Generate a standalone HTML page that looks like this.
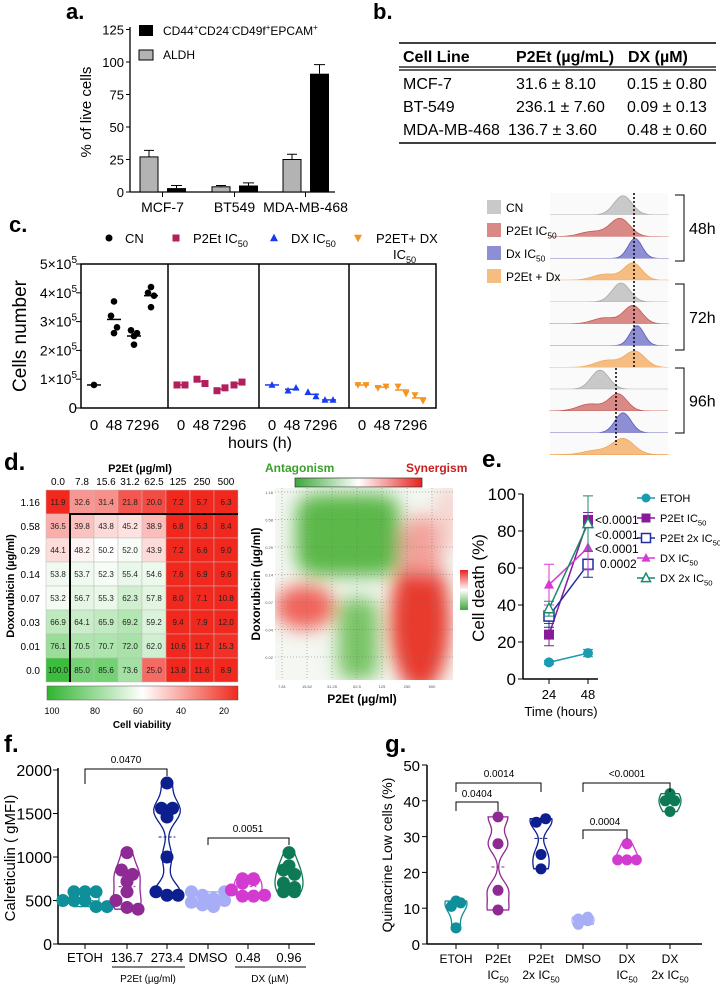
<!DOCTYPE html>
<html><head><meta charset="utf-8">
<style>
html,body{margin:0;padding:0;background:#fff;}
svg{display:block;font-family:"Liberation Sans",Arial,sans-serif;}
</style></head>
<body>
<svg id="fig" width="720" height="992" viewBox="0 0 720 992">
<defs>
<filter id="blur8"><feGaussianBlur stdDeviation="9"/></filter>
<linearGradient id="synbar" x1="0" x2="1" y1="0" y2="0">
<stop offset="0" stop-color="#3aa83a"/><stop offset="0.5" stop-color="#ffffff"/><stop offset="1" stop-color="#e8221e"/></linearGradient>
<linearGradient id="vbar" x1="0" x2="1" y1="0" y2="0">
<stop offset="0" stop-color="#2fb52f"/><stop offset="0.5" stop-color="#ffffff"/><stop offset="1" stop-color="#ee2a1e"/></linearGradient>
<linearGradient id="vsmall" x1="0" x2="0" y1="0" y2="1">
<stop offset="0" stop-color="#e8221e"/><stop offset="0.5" stop-color="#ffffff"/><stop offset="1" stop-color="#3aa83a"/></linearGradient>
</defs>
<text x="66" y="19" font-size="22" font-weight="bold">a.</text>
<text x="373" y="19" font-size="22" font-weight="bold">b.</text>
<text x="9" y="232" font-size="22" font-weight="bold">c.</text>
<text x="4" y="470" font-size="24" font-weight="bold">d.</text>
<text x="482" y="467" font-size="24" font-weight="bold">e.</text>
<text x="4" y="752" font-size="24" font-weight="bold">f.</text>
<text x="385" y="752" font-size="24" font-weight="bold">g.</text>

<g font-size="16">
<line x1="399" y1="43" x2="716" y2="43" stroke="#000" stroke-width="1.5"/>
<line x1="399" y1="67" x2="716" y2="67" stroke="#000" stroke-width="1.2"/>
<line x1="399" y1="70" x2="716" y2="70" stroke="#000" stroke-width="1.2"/>
<line x1="399" y1="143" x2="716" y2="143" stroke="#000" stroke-width="1.5"/>
<text x="403" y="62" font-weight="bold">Cell Line</text>
<text x="516" y="62" font-weight="bold">P2Et (µg/mL)</text>
<text x="628" y="62" font-weight="bold">DX (µM)</text>
<text x="403" y="89">MCF-7</text><text x="516" y="89">31.6 ± 8.10</text><text x="627" y="89">0.15 ± 0.80</text>
<text x="403" y="112">BT-549</text><text x="516" y="112">236.1 ± 7.60</text><text x="627" y="112">0.09 ± 0.13</text>
<text x="403" y="135">MDA-MB-468</text><text x="508" y="135">136.7 ± 3.60</text><text x="627" y="135">0.48 ± 0.60</text>
</g>
<g id="root"></g>
</svg>
<script>
// ---------- data ----------
const aCats = ["MCF-7","BT549","MDA-MB-468"];
const aAldh = [27,4,25];
const aAldhErr = [5,1,4];
const aCd44 = [3,5,91];
const aCd44Err = [2,2,7];
const cTimes = ["0","48","72","96"];
const cCN = [[0.8],[3.7,3.2,2.8,2.6],[2.5,2.7,2.6,2.2],[4.2,4.0,3.9,3.5]];
const cP2 = [[0.8,0.8],[1.0,0.85],[0.6,0.7],[0.8,0.9]];
const cDX = [[0.8],[0.6,0.7],[0.55,0.4],[0.28,0.28]];
const cCombo = [[0.8,0.8],[0.7,0.75],[0.75,0.5],[0.45,0.25]];
const dCols = ["0.0","7.8","15.6","31.2","62.5","125","250","500"];
const dRows = ["1.16","0.58","0.29","0.14","0.07","0.03","0.01","0.0"];
const dVals = [
[11.9,32.6,31.4,21.8,20.0,7.2,5.7,6.3],
[36.5,39.8,43.8,45.2,38.9,6.8,6.3,8.4],
[44.1,48.2,50.2,52.0,43.9,7.2,6.6,9.0],
[53.8,53.7,52.3,55.4,54.6,7.6,6.9,9.6],
[53.2,56.7,55.3,62.3,57.8,8.0,7.1,10.8],
[66.9,64.1,65.9,69.2,59.2,9.4,7.9,12.0],
[76.1,70.5,70.7,72.0,62.0,10.6,11.7,15.3],
[100.0,85.0,85.6,73.6,25.0,13.8,11.6,8.9]];
const eTimes = [24,48];
const eEtoh = [9,14];   const eEtohErr=[1,2];
const eP2 = [24,86];    const eP2Err=[6,4];
const eP2x2 = [34,62];  const eP2x2Err=[6,7];
const eDX = [51,71];    const eDXErr=[11,12];
const eDXx2 = [38,84];  const eDXx2Err=[4,15];
const ePvals = ["<0.0001","<0.0001","<0.0001","0.0002"];
const fCats = ["ETOH","136.7","273.4","DMSO","0.48","0.96"];
const fVals = [
[600,600,500,500,500,430,430,600],
[1050,850,800,720,600,500,420,400],
[1850,1560,1560,1460,1000,600,560,560],
[600,560,520,480,450,430,600,500],
[750,750,700,620,550,550,560,740],
[1050,900,850,800,700,650,600,600]];
const gCats1 = ["ETOH","P2Et","P2Et","DMSO","DX","DX"];
const gCats2 = ["","IC50","2x IC50","","IC50","2x IC50"];
const gVals = [
[10.5,12,11.5,4.5],
[35.5,28,15,9.5],
[34,35,25,21],
[5.5,6.5,7,7.5],
[23.5,28,23.5,23.5],
[42,40,40,37]];

const NS="http://www.w3.org/2000/svg";
const root=document.getElementById('root');
function mk(tag,attrs,parent){const e=document.createElementNS(NS,tag);for(const k in attrs)e.setAttribute(k,attrs[k]);(parent||root).appendChild(e);return e;}
function txt(x,y,s,size,extra,parent){const e=mk('text',Object.assign({x:x,y:y,'font-size':size},extra||{}),parent);e.textContent=s;return e;}
function sub(parent,x,y,base,subs,size,anchor){const t=mk('text',{x:x,y:y,'font-size':size,'text-anchor':anchor||'start'},parent);t.appendChild(document.createTextNode(base));const ts=mk('tspan',{'font-size':size*0.7,dy:size*0.3},t);ts.textContent=subs;return t;}
function marker(g,shape,x,y,r,color){
 let e;
 if(shape==='circle')e=mk('circle',{cx:x,cy:y,r:r,fill:color},g);
 else if(shape==='square')e=mk('rect',{x:x-r,y:y-r,width:2*r,height:2*r,fill:color},g);
 else if(shape==='osquare')e=mk('rect',{x:x-r,y:y-r,width:2*r,height:2*r,fill:'#fff',stroke:color,'stroke-width':1.5},g);
 else if(shape==='tri')e=mk('polygon',{points:`${x},${y-r*1.1} ${x-r},${y+r*0.8} ${x+r},${y+r*0.8}`,fill:color},g);
 else if(shape==='otri')e=mk('polygon',{points:`${x},${y-r*1.1} ${x-r},${y+r*0.8} ${x+r},${y+r*0.8}`,fill:'#fff',stroke:color,'stroke-width':1.5},g);
 else if(shape==='itri')e=mk('polygon',{points:`${x},${y+r*1.1} ${x-r},${y-r*0.8} ${x+r},${y-r*0.8}`,fill:color},g);
 return e;
}

// ================= PANEL A =================
const gA=mk('g',{});


function yA(v){return 192-v*1.3;}
const aX=[149,221,292];
mk('line',{x1:130,y1:27,x2:130,y2:192,stroke:'#000','stroke-width':1.3},gA);
mk('line',{x1:130,y1:192,x2:335,y2:192,stroke:'#000','stroke-width':1.3},gA);
[0,25,50,75,100,125].forEach(t=>{mk('line',{x1:126,x2:130,y1:yA(t),y2:yA(t),stroke:'#000'},gA);const l=txt(124,yA(t)+5,String(t),13,{'text-anchor':'end'},gA);

});
const aYT=txt(0,0,'% of live cells',15,{'text-anchor':'middle',transform:'translate(91,112) rotate(-90)'},gA);


aCats.forEach((c,i)=>{
 const x=aX[i];
 const b1=mk('rect',{x:x-9,y:yA(aAldh[i]),width:18,height:192-yA(aAldh[i]),fill:'#b3b3b3',stroke:'#000'},gA);
 
 
 mk('path',{d:`M${x} ${yA(aAldh[i])} V${yA(aAldh[i]+aAldhErr[i])} M${x-5} ${yA(aAldh[i]+aAldhErr[i])} H${x+5}`,stroke:'#000',fill:'none'},gA);
 const b2=mk('rect',{x:x+18,y:yA(aCd44[i]),width:19,height:192-yA(aCd44[i]),fill:'#000'},gA);
 
 
 mk('path',{d:`M${x+27.5} ${yA(aCd44[i])} V${yA(aCd44[i]+aCd44Err[i])} M${x+22} ${yA(aCd44[i]+aCd44Err[i])} H${x+33}`,stroke:'#000',fill:'none'},gA);
 mk('line',{x1:x+13.5,x2:x+13.5,y1:192,y2:197,stroke:'#000'},gA);
 const l=txt(x+13.5,212,c,14,{'text-anchor':'middle'},gA);
 
 
});
const lgA=mk('g',{},gA);


mk('rect',{x:139,y:25,width:14,height:11,fill:'#000'},lgA);
const lt1=mk('text',{x:163,y:35,'font-size':12},lgA);
lt1.innerHTML='CD44<tspan dy="-5" font-size="8">+</tspan><tspan dy="5">CD24</tspan><tspan dy="-5" font-size="8">-</tspan><tspan dy="5">CD49f</tspan><tspan dy="-5" font-size="8">+</tspan><tspan dy="5">EPCAM</tspan><tspan dy="-5" font-size="8">+</tspan>';
mk('rect',{x:139,y:50,width:14,height:10,fill:'#b3b3b3',stroke:'#000'},lgA);
txt(163,59,'ALDH',12,{},lgA);

// ================= PANEL C =================
const gC=mk('g',{});


function yC(v){return 408-v*28.8;}
const cStarts=[81,168,259,349];
const cOff=[13,33,53,70];
mk('rect',{x:81,y:264,width:355,height:144,fill:'none',stroke:'#000','stroke-width':1.5},gC);
[168,259,349].forEach(x=>mk('line',{x1:x,x2:x,y1:264,y2:408,stroke:'#000','stroke-width':1.5},gC));
[0,1,2,3,4,5].forEach(t=>{
 mk('line',{x1:76,x2:81,y1:yC(t),y2:yC(t),stroke:'#000'},gC);
 let l;
 if(t===0)l=txt(77,yC(t)+5,'0',15,{'text-anchor':'end'},gC);
 else {l=mk('text',{x:77,y:yC(t)+5,'font-size':14,'text-anchor':'end'},gC);l.innerHTML=t+'×10<tspan dy="-6" font-size="10">5</tspan>';}
 
 
});
const cYT=txt(0,0,'Cells number',19,{'text-anchor':'middle',transform:'translate(26,336) rotate(-90)'},gC);


const cXT=txt(260,448,'hours  (h)',16,{'text-anchor':'middle'},gC);


const cSeries=[[cCN,'circle','#000'],[cP2,'square','#b21f5c'],[cDX,'tri','#1a3cf0'],[cCombo,'itri','#f5931e']];
cSeries.forEach((s,si)=>{
 const g=mk('g',{},gC);
 
 
 cTimes.forEach((t,ti)=>{
  const x=cStarts[si]+cOff[ti];
  const l=txt(x,430,t,15,{'text-anchor':'middle'},g);
  
  
  const vals=s[0][ti];
  const mean=vals.reduce((a,b)=>a+b,0)/vals.length;
  mk('line',{x1:x-7,x2:x+7,y1:yC(mean),y2:yC(mean),stroke:s[2],'stroke-width':1.5},g);
  vals.forEach((v,vi)=>{
   const dx=vals.length===1?0:(vals.length===2?(vi===0?-4:4):[0,-3,3,0][vi]);
   const m=marker(g,s[1],x+dx,yC(v),si===0?3.3:3.5,s[2]);
   
   
  });
 });
});
const lgC=mk('g',{},gC);


marker(lgC,'circle',109,238,3.5,'#000');txt(125,243,'CN',13,{},lgC);
marker(lgC,'square',176,238,3.5,'#b21f5c');sub(lgC,193,243,'P2Et IC','50',13);
marker(lgC,'tri',274,238,4,'#1a3cf0');sub(lgC,291,243,'DX IC','50',13);
marker(lgC,'itri',358,238,4,'#f5931e');txt(376,243,'P2ET+ DX',13,{},lgC);sub(lgC,393,259,'IC','50',13);

// ================= HISTOGRAMS =================
const gH=mk('g',{});


const hColors=['#c9c9c9','#d98a86','#8e8ed4','#f6bd82'];
const hStroke=['#aaa','#c45a56','#5a5ab8','#f0a860'];
const hPeaks=[[623,9,0.95,0],[620,10,0.9,0.25],[635,7,1,0],[633,9,0.85,0.3],[621,9,0.95,0],[633,9,0.9,0.3],[637,7,1,0],[635,10,0.8,0.35],[600,9,0.95,0],[618,9,0.85,0.35],[623,8,1,0],[623,11,0.8,0.2]];
const hRow=21.8;
hPeaks.forEach((p,i)=>{
 const base=193+(i+1)*hRow;
 mk('rect',{x:550,y:base-hRow,width:118,height:hRow,fill:'#fafafa'},gH);
 let d=`M550 ${base}`;
 for(let x=550;x<=668;x+=2){const z=(x-p[0])/p[1];const z2=(x-p[0]+28)/12;d+=` L${x} ${base-20*(p[2]*Math.exp(-z*z/2)+p[3]*Math.exp(-z2*z2/2))}`;}
 d+=` L668 ${base} Z`;
 const e=mk('path',{d:d,fill:hColors[i%4],stroke:hStroke[i%4],'stroke-width':0.8},gH);
 
 
});
mk('line',{x1:634,x2:634,y1:193,y2:368,stroke:'#000','stroke-width':1.5,'stroke-dasharray':'2,2'},gH);
mk('line',{x1:616,x2:616,y1:368,y2:445,stroke:'#000','stroke-width':1.5,'stroke-dasharray':'2,2'},gH);
[[195,261,'48h'],[284,350,'72h'],[368,433,'96h']].forEach(b=>{
 mk('path',{d:`M675 ${b[0]} H684 V${b[1]} H675`,stroke:'#000',fill:'none'},gH);
 const l=txt(689,(b[0]+b[1])/2+6,b[2],16,{},gH);
 
 
});
const lgH=mk('g',{},gH);


[['CN'],['P2Et IC','50'],[' Dx IC','50'],['P2Et + Dx']].forEach((l,i)=>{
 const y=200+i*23;
 mk('rect',{x:487,y:y,width:14,height:14,fill:hColors[i]},lgH);
 if(l[1])sub(lgH,506,y+12,l[0],l[1],12);else txt(506,y+12,l[0],12,{},lgH);
});

// ================= PANEL D heatmap =================
const gD=mk('g',{});


const dx0=46,dy0=490,cw=24,ch=24;
function vColor(v){
 if(v>=50){const t=Math.min(1,(v-50)/50);return `rgb(${Math.round(255-t*195)},${Math.round(255-t*65)},${Math.round(255-t*195)})`;}
 const t=Math.min(1,(50-v)/36);return `rgb(${Math.round(255-t*15)},${Math.round(255-t*215)},${Math.round(255-t*225)})`;
}
dVals.forEach((row,r)=>row.forEach((v,c)=>{
 const rc=mk('rect',{x:dx0+c*cw,y:dy0+r*ch,width:cw,height:ch,fill:vColor(v),stroke:'#bbb','stroke-width':0.5},gD);
 
 
 txt(dx0+c*cw+cw/2,dy0+r*ch+ch/2+3,v.toFixed(1),8,{'text-anchor':'middle',fill:'#222'},gD);
}));
dCols.forEach((c,i)=>{const l=txt(dx0+i*cw+cw/2,485,c,10,{'text-anchor':'middle'},gD);

});
dRows.forEach((r,i)=>{const l=txt(40,dy0+i*ch+ch/2+4,r,10,{'text-anchor':'end'},gD);

});
mk('path',{d:`M${dx0+cw} ${dy0+8*ch} V${dy0+ch} H${dx0+8*cw}`,stroke:'#000','stroke-width':2,fill:'none'},gD);
txt(140,472,'P2Et (µg/ml)',11,{'text-anchor':'middle','font-weight':'bold'},gD);
txt(0,0,'Doxorubicin (µg/ml)',11,{'text-anchor':'middle','font-weight':'bold',transform:'translate(14,586) rotate(-90)'},gD);
const vb=mk('rect',{x:47,y:686,width:191,height:14,fill:'url(#vbar)',stroke:'#555','stroke-width':0.5},gD);


['100','80','60','40','20'].forEach((t,i)=>txt(52+i*43,714,t,9,{'text-anchor':'middle'},gD));
txt(142,728,'Cell viability',10,{'text-anchor':'middle','font-weight':'bold'},gD);

const gS=mk('g',{});


mk('clipPath',{id:'synclip'},gS).appendChild(document.createElementNS(NS,'rect'));
const cr=document.querySelector('#synclip rect');cr.setAttribute('x',275);cr.setAttribute('y',488);cr.setAttribute('width',178);cr.setAttribute('height',192);
const sg=mk('g',{'clip-path':'url(#synclip)'},gS);
mk('rect',{x:275,y:488,width:178,height:192,fill:'#f4f7f2'},sg);
const blobs=mk('g',{filter:'url(#blur8)'},sg);
mk('rect',{x:296,y:494,width:104,height:82,rx:20,fill:'#5cb848'},blobs);
mk('rect',{x:338,y:598,width:40,height:82,rx:14,fill:'#79c466'},blobs);
mk('ellipse',{cx:420,cy:622,rx:30,ry:70,fill:'#e83a2e'},blobs);
mk('ellipse',{cx:422,cy:545,rx:22,ry:30,fill:'#f3a09a'},blobs);
mk('ellipse',{cx:305,cy:607,rx:30,ry:22,fill:'#f0635a'},blobs);
mk('rect',{x:438,y:488,width:20,height:60,fill:'#f6d0cc'},blobs);
for(let i=0;i<7;i++){mk('line',{x1:282+i*25,x2:282+i*25,y1:488,y2:680,stroke:'#777','stroke-width':0.5,'stroke-dasharray':'1,2'},sg);}
for(let i=0;i<7;i++){mk('line',{x1:275,x2:453,y1:492+i*27.5,y2:492+i*27.5,stroke:'#777','stroke-width':0.5,'stroke-dasharray':'1,2'},sg);}
const sb=mk('rect',{x:295,y:478,width:127,height:9,fill:'url(#synbar)',stroke:'#333','stroke-width':0.7},gS);


mk('rect',{x:460,y:570,width:8,height:40,fill:'url(#vsmall)'},gS);
txt(265,472,'Antagonism',12,{fill:'#3aa12a','font-weight':'bold'},gS);
txt(406,472,'Synergism',12,{fill:'#c62020','font-weight':'bold'},gS);
['1.16','0.58','0.29','0.14','0.07','0.04','0.02'].forEach((t,i)=>txt(273,494+i*27.5,t,4,{'text-anchor':'end',fill:'#555'},gS));
['7.81','15.62','31.25','62.5','125','250','500'].forEach((t,i)=>txt(282+i*25,688,t,4,{'text-anchor':'middle',fill:'#555'},gS));
txt(362,703,'P2Et (µg/ml)',12,{'text-anchor':'middle','font-weight':'bold'},gS);
txt(0,0,'Doxorubicin (µg/ml)',12,{'text-anchor':'middle','font-weight':'bold',transform:'translate(260,584) rotate(-90)'},gS);

// ================= PANEL E =================
const gE=mk('g',{});


function yE(v){return 679-v*1.85;}
function xE(t){return 549+(t-24)*39/24;}
mk('line',{x1:523,x2:523,y1:494,y2:679,stroke:'#000','stroke-width':1.5},gE);
mk('line',{x1:523,x2:598,y1:679,y2:679,stroke:'#000','stroke-width':1.5},gE);
[0,20,40,60,80,100].forEach(t=>{mk('line',{x1:518,x2:523,y1:yE(t),y2:yE(t),stroke:'#000'},gE);const l=txt(516,yE(t)+6,String(t),17,{'text-anchor':'end'},gE);

});
eTimes.forEach(t=>{mk('line',{x1:xE(t),x2:xE(t),y1:679,y2:684,stroke:'#000'},gE);const l=txt(xE(t),699,String(t),13,{'text-anchor':'middle'},gE);

});
txt(561,716,'Time (hours)',13,{'text-anchor':'middle'},gE);
txt(0,0,'Cell death (%)',17,{'text-anchor':'middle',transform:'translate(484,588) rotate(-90)'},gE);
const eSeries=[[eEtoh,eEtohErr,'circle','#1a9cb0','ETOH',''],[eP2,eP2Err,'square','#8b1a9b','P2Et IC','50'],[eP2x2,eP2x2Err,'osquare','#1e2ea0','P2Et  2x IC','50'],[eDX,eDXErr,'tri','#d63ad6','DX IC','50'],[eDXx2,eDXx2Err,'otri','#1b8a6b','DX 2x IC','50']];
eSeries.forEach((s,si)=>{
 const g=mk('g',{},gE);
 
 
 mk('polyline',{points:eTimes.map((t,i)=>`${xE(t)},${yE(s[0][i])}`).join(' '),fill:'none',stroke:s[3],'stroke-width':1.5},g);
 eTimes.forEach((t,i)=>{
  const x=xE(t),v=s[0][i],e=s[1][i];
  mk('path',{d:`M${x} ${yE(v-e)} V${yE(v+e)} M${x-5} ${yE(v-e)} H${x+5} M${x-5} ${yE(v+e)} H${x+5}`,stroke:s[3],fill:'none'},g);
  const m=marker(g,s[2],x,yE(v),5,s[3]);
  
  
 });
 const ly=498+si*20;
 mk('line',{x1:637,x2:655,y1:ly,y2:ly,stroke:s[3],'stroke-width':1.5},gE);
 marker(gE,s[2],646,ly,4.5,s[3]);
 if(s[5])sub(gE,660,ly+4,s[4],s[5],11);else txt(660,ly+4,s[4],11,{},gE);
});
ePvals.forEach((p,i)=>{const l=txt(i===3?600:595,[524,539,553,568][i],p,12,{},gE);

});

function violin(g,x,vals,yfn,color,bw,maxw,r){
 const mn=Math.min(...vals),mx=Math.max(...vals);
 const pts=[];const N=30;
 for(let i=0;i<=N;i++){const v=mn+(mx-mn)*i/N;let d=0;vals.forEach(u=>{const z=(v-u)/bw;d+=Math.exp(-z*z/2);});pts.push([v,d]);}
 const dm=Math.max(...pts.map(p=>p[1]));
 let d='';pts.forEach((p,i)=>{d+=(i?'L':'M')+(x+p[1]/dm*maxw)+' '+yfn(p[0]);});
 for(let i=pts.length-1;i>=0;i--){d+='L'+(x-pts[i][1]/dm*maxw)+' '+yfn(pts[i][0]);}
 d+='Z';
 mk('path',{d:d,fill:'none',stroke:color,'stroke-width':1.3},g);
 const s=[...vals].sort((a,b)=>a-b);const med=(s[Math.floor((s.length-1)/2)]+s[Math.ceil((s.length-1)/2)])/2;
 mk('line',{x1:x-maxw*0.6,x2:x+maxw*0.6,y1:yfn(med),y2:yfn(med),stroke:color,'stroke-dasharray':'3,2'},g);
 const counts={};
 vals.forEach(v=>{const k=Math.round(yfn(v)/(r*1.6));counts[k]=(counts[k]||0)+1;});
 const seen={};
 vals.forEach(v=>{const k=Math.round(yfn(v)/(r*1.6));const n=counts[k];const idx=(seen[k]=(seen[k]||0)+1)-1;
  const off=(idx-(n-1)/2)*r*1.7;
  const c=mk('circle',{cx:x+off,cy:yfn(v),r:r,fill:color},g);
  
  
 });
}

// ================= PANEL F =================
const gF=mk('g',{});


function yF(v){return 944-v*0.087;}
const fX=[85,127,167,208,248,289];
const fColors=['#0e8f9a','#8e2a93','#0d1f8e','#a8aef5','#d23ad0','#0d7a55'];
mk('line',{x1:58,x2:58,y1:768,y2:944,stroke:'#000','stroke-width':1.5},gF);
mk('line',{x1:58,x2:315,y1:944,y2:944,stroke:'#000','stroke-width':1.5},gF);
[0,500,1000,1500,2000].forEach(t=>{mk('line',{x1:53,x2:58,y1:yF(t),y2:yF(t),stroke:'#000'},gF);const l=txt(52,yF(t)+6,String(t),16,{'text-anchor':'end'},gF);

});
txt(0,0,'Calreticulin ( gMFI)',15,{'text-anchor':'middle',transform:'translate(15,858) rotate(-90)'},gF);
fCats.forEach((c,i)=>{
 mk('line',{x1:fX[i],x2:fX[i],y1:944,y2:949,stroke:'#000'},gF);
 const l=txt(fX[i],962,c,13,{'text-anchor':'middle'},gF);
 
 
 const g=mk('g',{},gF);
 
 
 violin(g,fX[i],fVals[i],yF,fColors[i],120,14,6.5);
});
mk('line',{x1:112,x2:185,y1:967,y2:967,stroke:'#000'},gF);
txt(148,982,'P2Et (µg/ml)',10,{'text-anchor':'middle'},gF);
mk('line',{x1:235,x2:306,y1:967,y2:967,stroke:'#000'},gF);
txt(270,982,'DX (µM)',10,{'text-anchor':'middle'},gF);
mk('path',{d:`M${fX[0]} 784 V769 H${fX[2]} V776`,stroke:'#000',fill:'none'},gF);
txt(126,763,'0.0470',10,{'text-anchor':'middle'},gF);
mk('path',{d:`M${fX[3]} 845 V838 H${fX[5]} V845`,stroke:'#000',fill:'none'},gF);
txt(248,832,'0.0051',10,{'text-anchor':'middle'},gF);

// ================= PANEL G =================
const gG=mk('g',{});


function yG(v){return 944-v*3.58;}
const gX=[456,498,541,583,627,670];
const gColors=['#0e8f9a','#8e2a93','#0d1f8e','#a8aef5','#d23ad0','#0d7a55'];
mk('line',{x1:427,x2:427,y1:765,y2:944,stroke:'#000','stroke-width':1.5},gG);
mk('line',{x1:427,x2:702,y1:944,y2:944,stroke:'#000','stroke-width':1.5},gG);
[0,10,20,30,40,50].forEach(t=>{mk('line',{x1:422,x2:427,y1:yG(t),y2:yG(t),stroke:'#000'},gG);const l=txt(420,yG(t)+6,String(t),15,{'text-anchor':'end'},gG);

});
txt(0,0,'Quinacrine Low cells (%)',14,{'text-anchor':'middle',transform:'translate(392,855) rotate(-90)'},gG);
gCats1.forEach((c,i)=>{
 mk('line',{x1:gX[i],x2:gX[i],y1:944,y2:949,stroke:'#000'},gG);
 const l=txt(gX[i],963,c,12,{'text-anchor':'middle'},gG);
 
 
 if(gCats2[i]){const p=gCats2[i];sub(gG,gX[i],979,p.slice(0,-2),p.slice(-2),12,'middle');}
 const g=mk('g',{},gG);
 
 
 violin(g,gX[i],gVals[i],yG,gColors[i],2.5,11,5.5);
});
mk('path',{d:`M${gX[0]} 792 V783 H${gX[2]} V792`,stroke:'#000',fill:'none'},gG);
txt(499,777,'0.0014',10,{'text-anchor':'middle'},gG);
mk('path',{d:`M${gX[0]} 811 V802 H${gX[1]} V811`,stroke:'#000',fill:'none'},gG);
txt(477,797,'0.0404',10,{'text-anchor':'middle'},gG);
mk('path',{d:`M${gX[3]} 792 V783 H${gX[5]} V792`,stroke:'#000',fill:'none'},gG);
txt(627,777,'<0.0001',10,{'text-anchor':'middle'},gG);
mk('path',{d:`M${gX[3]} 839 V830 H${gX[4]} V839`,stroke:'#000',fill:'none'},gG);
txt(605,825,'0.0004',10,{'text-anchor':'middle'},gG);
</script>
</body></html>
